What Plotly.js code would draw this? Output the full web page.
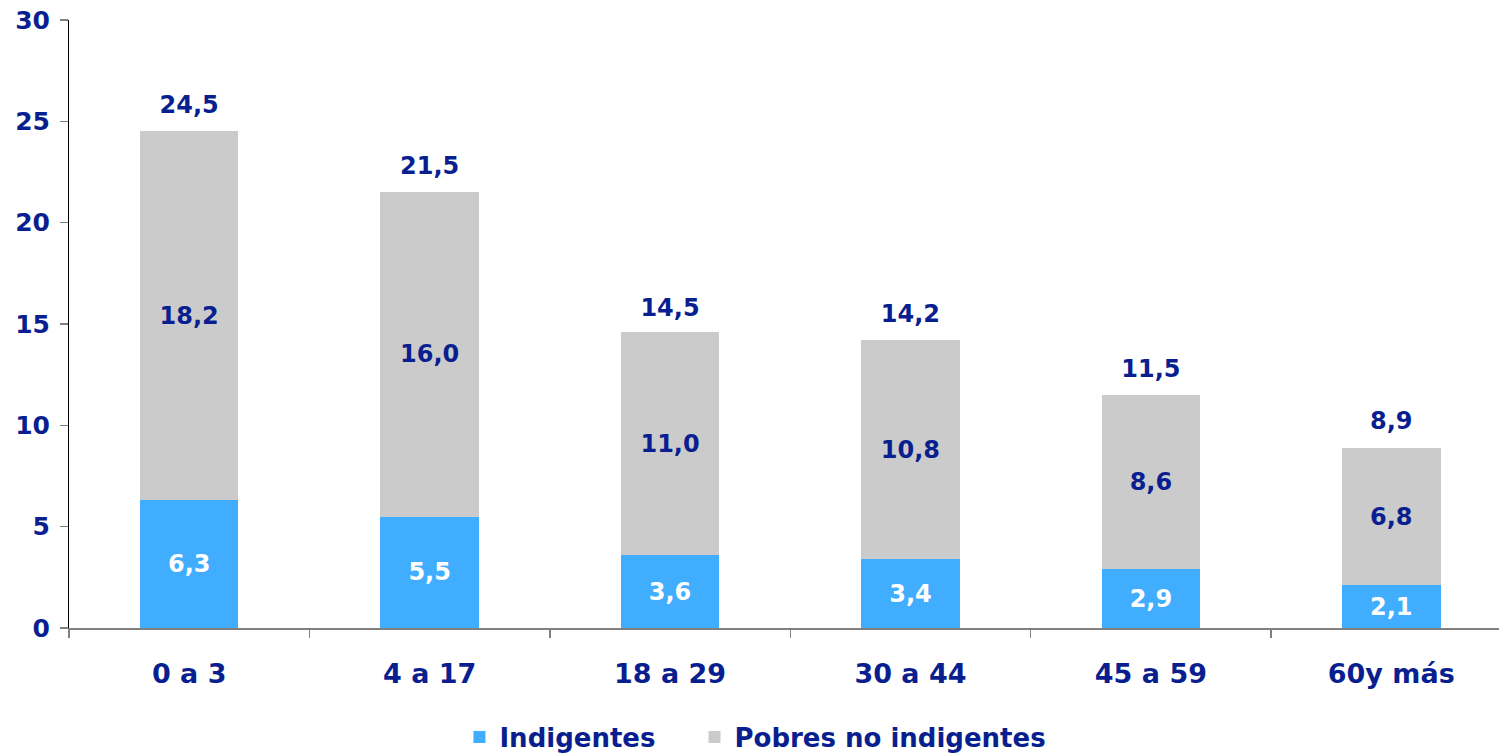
<!DOCTYPE html>
<html>
<head>
<meta charset="utf-8">
<script src="https://cdn.plot.ly/plotly-3.0.1.min.js"></script>
<style>html,body{margin:0;padding:0;background:#fff;}#chart{width:1499px;height:753px;}</style>
</head>
<body>
<div id="chart"></div>
<script>
const categories = ["0 a 3", "4 a 17", "18 a 29", "30 a 44", "45 a 59", "60y más"];
const indigentes = [6.3, 5.5, 3.6, 3.4, 2.9, 2.1];
const pobresNoIndigentes = [18.2, 16.0, 11.0, 10.8, 8.6, 6.8];
const totales = [24.5, 21.5, 14.5, 14.2, 11.5, 8.9];
const yTicks = [0, 5, 10, 15, 20, 25, 30];

const navy = "#0a1f8f";
const fontFam = "'DejaVu Sans', sans-serif";
const fs = 24;

const traces = [
  {
    type: "bar", name: "Indigentes", x: categories, y: indigentes,
    marker: {color: "#40adfe"}, width: 0.41, legend: "legend",
    texttemplate: "%{y:.1f}", textposition: "inside", insidetextanchor: "middle",
    constraintext: "none",
    textfont: {family: fontFam, size: fs, color: "#ffffff", weight: 700},
    hoverinfo: "skip"
  },
  {
    type: "bar", name: "Pobres no indigentes", x: categories, y: pobresNoIndigentes,
    marker: {color: "#cbcbcb"}, width: 0.41, legend: "legend2",
    texttemplate: "%{y:.1f}", textposition: "inside", insidetextanchor: "middle",
    constraintext: "none",
    textfont: {family: fontFam, size: fs, color: navy, weight: 700},
    hoverinfo: "skip"
  },
  {
    type: "scatter", mode: "markers+text", x: categories, y: totales,
    marker: {size: 18, opacity: 0},
    texttemplate: "%{y:.1f}", textposition: "top center",
    textfont: {family: fontFam, size: fs, color: navy, weight: 700},
    showlegend: false, hoverinfo: "skip", cliponaxis: false
  }
];

const legendBase = {
  orientation: "h", xanchor: "left",
  xref: "container", yref: "container", y: 0.021, yanchor: "middle",
  font: {family: fontFam, size: 26, color: navy, weight: 700},
  itemwidth: 30, bgcolor: "rgba(0,0,0,0)"
};

const layout = {
  width: 1499, height: 753,
  margin: {l: 69, r: 0, t: 20, b: 125},
  paper_bgcolor: "#ffffff", plot_bgcolor: "#ffffff",
  separators: ",.",
  barmode: "stack",
  font: {family: fontFam, color: navy},
  xaxis: {
    type: "category", range: [-0.5, 5.448],
    showline: true, linecolor: "#808080", linewidth: 2,
    ticks: "outside", tickson: "boundaries", ticklen: 8, tickcolor: "#808080", tickwidth: 1.5,
    showgrid: false, zeroline: false,
    tickfont: {family: fontFam, size: 27, color: navy, weight: 700},
    ticklabelstandoff: 21
  },
  yaxis: {
    range: [0, 30], tickvals: yTicks,
    showline: true, linecolor: "#000000", linewidth: 1,
    ticks: "outside", ticklen: 8, tickcolor: "#808080", tickwidth: 1.5,
    showgrid: false, zeroline: false,
    tickfont: {family: fontFam, size: 25, color: navy, weight: 700},
    ticklabelstandoff: 5
  },
  showlegend: true,
  legend: Object.assign({}, legendBase, {x: 0.3065}),
  legend2: Object.assign({}, legendBase, {x: 0.4633})
};

Plotly.newPlot("chart", traces, layout, {displayModeBar: false, staticPlot: true});
</script>
</body>
</html>
